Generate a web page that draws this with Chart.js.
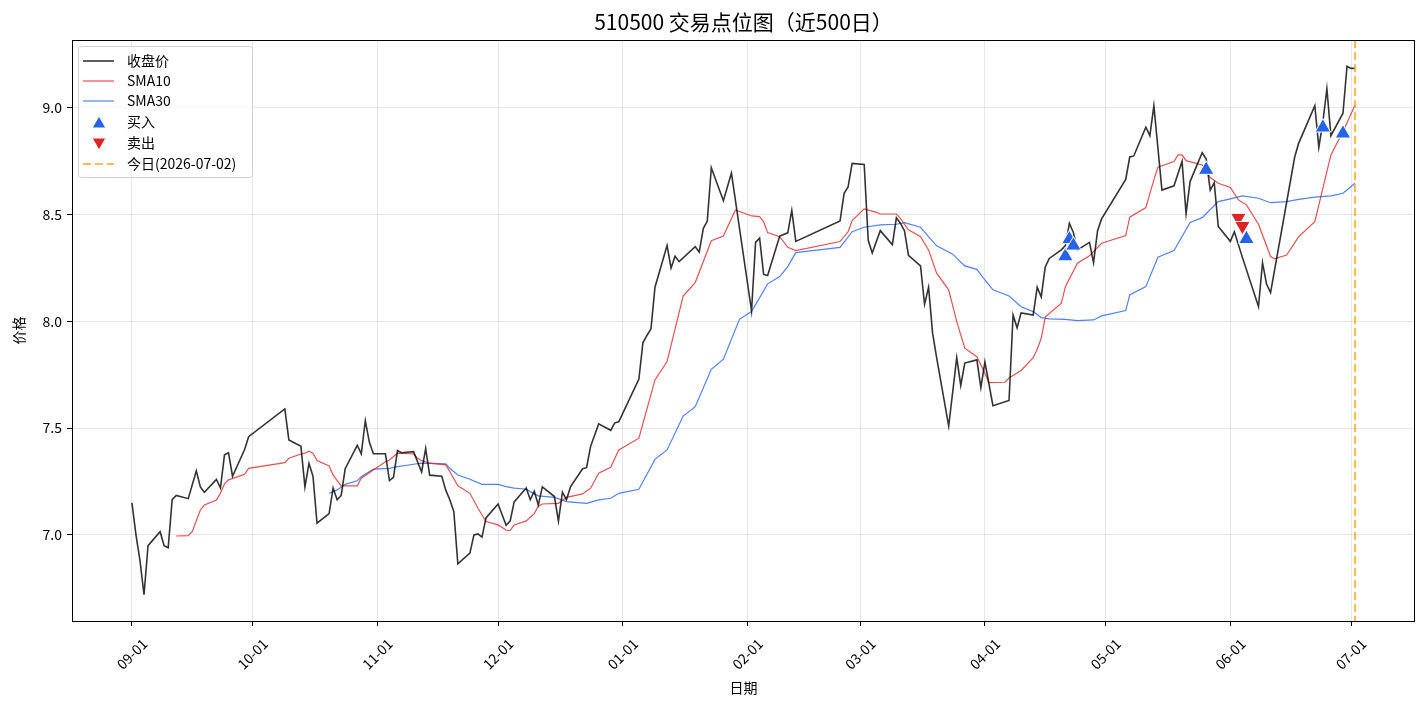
<!DOCTYPE html>
<html>
<head>
<meta charset="utf-8">
<title>510500 交易点位图</title>
<script src="https://cdn.jsdelivr.net/npm/chart.js@4.4.1/dist/chart.umd.min.js"></script>
<style>
  html, body { margin: 0; padding: 0; background: #fff; }
  #chart { display: block; }
</style>
</head>
<body>
<canvas id="chart" width="1428" height="706"></canvas>
<script>
// Precio de cierre
var closeDates = [
  '2025-09-01','2025-09-02','2025-09-03','2025-09-04','2025-09-05','2025-09-08','2025-09-09','2025-09-10','2025-09-11','2025-09-12',
  '2025-09-15','2025-09-17','2025-09-18','2025-09-19','2025-09-22','2025-09-23','2025-09-24','2025-09-25','2025-09-26','2025-09-29',
  '2025-09-30','2025-10-09','2025-10-10','2025-10-13','2025-10-14','2025-10-15','2025-10-16','2025-10-17','2025-10-20','2025-10-21',
  '2025-10-22','2025-10-23','2025-10-24','2025-10-27','2025-10-28','2025-10-29','2025-10-30','2025-10-31','2025-11-03','2025-11-04',
  '2025-11-05','2025-11-06','2025-11-07','2025-11-10','2025-11-12','2025-11-13','2025-11-14','2025-11-17','2025-11-18','2025-11-19',
  '2025-11-20','2025-11-21','2025-11-24','2025-11-25','2025-11-26','2025-11-27','2025-11-28','2025-12-01','2025-12-03','2025-12-04',
  '2025-12-05','2025-12-08','2025-12-09','2025-12-10','2025-12-11','2025-12-12','2025-12-15','2025-12-16','2025-12-17','2025-12-18',
  '2025-12-19','2025-12-22','2025-12-23','2025-12-24','2025-12-26','2025-12-29','2025-12-30','2025-12-31','2026-01-05','2026-01-06',
  '2026-01-07','2026-01-08','2026-01-09','2026-01-12','2026-01-13','2026-01-14','2026-01-15','2026-01-19','2026-01-20','2026-01-21',
  '2026-01-22','2026-01-23','2026-01-26','2026-01-28','2026-02-02','2026-02-03','2026-02-04','2026-02-05','2026-02-06','2026-02-09',
  '2026-02-11','2026-02-12','2026-02-13','2026-02-24','2026-02-25','2026-02-26','2026-02-27','2026-03-02','2026-03-03','2026-03-04',
  '2026-03-06','2026-03-09','2026-03-10','2026-03-11','2026-03-12','2026-03-13','2026-03-16','2026-03-17','2026-03-18','2026-03-19',
  '2026-03-20','2026-03-23','2026-03-25','2026-03-26','2026-03-27','2026-03-30','2026-03-31','2026-04-01','2026-04-03','2026-04-07',
  '2026-04-08','2026-04-09','2026-04-10','2026-04-13','2026-04-14','2026-04-15','2026-04-16','2026-04-17','2026-04-20','2026-04-21',
  '2026-04-22','2026-04-23','2026-04-24','2026-04-27','2026-04-28','2026-04-29','2026-04-30','2026-05-06','2026-05-07','2026-05-08',
  '2026-05-11','2026-05-12','2026-05-13','2026-05-15','2026-05-18','2026-05-20','2026-05-21','2026-05-22','2026-05-25','2026-05-26',
  '2026-05-27','2026-05-28','2026-05-29','2026-06-01','2026-06-02','2026-06-04','2026-06-08','2026-06-09','2026-06-10','2026-06-11',
  '2026-06-17','2026-06-18','2026-06-22','2026-06-23','2026-06-24','2026-06-25','2026-06-26','2026-06-29','2026-06-30','2026-07-01',
  '2026-07-02'
];
var closeValues = [
  7.15, 7.00, 6.88, 6.72, 6.95, 7.015, 6.95, 6.94, 7.165, 7.185,
  7.17, 7.30, 7.225, 7.20, 7.26, 7.22, 7.375, 7.385, 7.275, 7.40,
  7.46, 7.59, 7.445, 7.415, 7.225, 7.335, 7.275, 7.055, 7.10, 7.22,
  7.165, 7.185, 7.31, 7.42, 7.38, 7.535, 7.435, 7.38, 7.38, 7.255,
  7.27, 7.395, 7.385, 7.39, 7.295, 7.405, 7.28, 7.275, 7.21, 7.165,
  7.11, 6.865, 6.915, 7.00, 7.005, 6.99, 7.08, 7.145, 7.045, 7.065,
  7.155, 7.22, 7.165, 7.205, 7.14, 7.225, 7.18, 7.065, 7.20, 7.165,
  7.225, 7.31, 7.315, 7.415, 7.52, 7.49, 7.525, 7.53, 7.73, 7.90,
  7.935, 7.965, 8.16, 8.355, 8.25, 8.305, 8.28, 8.35, 8.325, 8.435,
  8.47, 8.72, 8.565, 8.695, 8.05, 8.37, 8.39, 8.22, 8.215, 8.40,
  8.415, 8.52, 8.375, 8.47, 8.60, 8.63, 8.74, 8.735, 8.38, 8.32,
  8.425, 8.36, 8.485, 8.46, 8.425, 8.31, 8.26, 8.08, 8.16, 7.945,
  7.83, 7.51, 7.83, 7.70, 7.805, 7.82, 7.69, 7.81, 7.605, 7.63,
  8.03, 7.97, 8.04, 8.03, 8.16, 8.115, 8.255, 8.295, 8.335, 8.355,
  8.46, 8.415, 8.335, 8.37, 8.275, 8.425, 8.48, 8.665, 8.77, 8.775,
  8.91, 8.87, 9.01, 8.615, 8.635, 8.75, 8.505, 8.655, 8.79, 8.76,
  8.615, 8.65, 8.445, 8.375, 8.42, 8.30, 8.07, 8.275, 8.175, 8.135,
  8.77, 8.835, 9.01, 8.815, 8.935, 9.09, 8.87, 8.975, 9.195, 9.185,
  9.185
];

// Media móvil de 10 días
var sma10Dates = [
  '2025-09-12','2025-09-15','2025-09-16','2025-09-18','2025-09-19','2025-09-22','2025-09-23','2025-09-24','2025-09-25','2025-09-29',
  '2025-09-30','2025-10-09','2025-10-10','2025-10-13','2025-10-14','2025-10-15','2025-10-16','2025-10-17','2025-10-20','2025-10-21',
  '2025-10-23','2025-10-27','2025-10-28','2025-10-31','2025-11-03','2025-11-04','2025-11-06','2025-11-10','2025-11-11','2025-11-12',
  '2025-11-14','2025-11-18','2025-11-19','2025-11-21','2025-11-24','2025-11-26','2025-11-28','2025-12-01','2025-12-03','2025-12-04',
  '2025-12-05','2025-12-08','2025-12-10','2025-12-11','2025-12-12','2025-12-16','2025-12-18','2025-12-22','2025-12-24','2025-12-26',
  '2025-12-29','2025-12-31','2026-01-05','2026-01-09','2026-01-12','2026-01-16','2026-01-19','2026-01-23','2026-01-26','2026-01-29',
  '2026-02-02','2026-02-04','2026-02-05','2026-02-06','2026-02-09','2026-02-11','2026-02-13','2026-02-24','2026-02-26','2026-02-27',
  '2026-03-02','2026-03-05','2026-03-06','2026-03-10','2026-03-11','2026-03-13','2026-03-16','2026-03-18','2026-03-20','2026-03-23',
  '2026-03-25','2026-03-27','2026-03-30','2026-04-01','2026-04-02','2026-04-06','2026-04-07','2026-04-10','2026-04-13','2026-04-14',
  '2026-04-15','2026-04-16','2026-04-20','2026-04-21','2026-04-24','2026-04-27','2026-04-30','2026-05-06','2026-05-07','2026-05-11',
  '2026-05-13','2026-05-14','2026-05-18','2026-05-19','2026-05-20','2026-05-21','2026-05-25','2026-05-27','2026-05-29','2026-06-01',
  '2026-06-03','2026-06-05','2026-06-08','2026-06-11','2026-06-12','2026-06-15','2026-06-18','2026-06-22','2026-06-26','2026-06-29',
  '2026-06-30','2026-07-02'
];
var sma10Values = [
  6.995, 6.997, 7.016, 7.117, 7.14, 7.164, 7.195, 7.239, 7.258, 7.284,
  7.312, 7.339, 7.359, 7.379, 7.383, 7.392, 7.383, 7.348, 7.323, 7.28,
  7.23, 7.23, 7.266, 7.304, 7.343, 7.351, 7.383, 7.379, 7.359, 7.348,
  7.336, 7.328, 7.297, 7.23, 7.195, 7.125, 7.063, 7.047, 7.023, 7.02,
  7.047, 7.066, 7.10, 7.136, 7.145, 7.148, 7.176, 7.192, 7.219, 7.289,
  7.317, 7.398, 7.453, 7.726, 7.812, 8.119, 8.182, 8.378, 8.40, 8.522,
  8.494, 8.491, 8.467, 8.416, 8.397, 8.347, 8.332, 8.374, 8.42, 8.472,
  8.527, 8.511, 8.503, 8.503, 8.483, 8.429, 8.397, 8.335, 8.226, 8.148,
  7.999, 7.875, 7.835, 7.757, 7.713, 7.715, 7.735, 7.77, 7.83, 7.87,
  7.921, 8.02, 8.085, 8.163, 8.273, 8.308, 8.366, 8.402, 8.488, 8.533,
  8.663, 8.722, 8.749, 8.78, 8.78, 8.753, 8.733, 8.674, 8.647, 8.627,
  8.569, 8.546, 8.455, 8.304, 8.293, 8.311, 8.397, 8.467, 8.78, 8.89,
  8.93, 9.014
];

// Media móvil de 30 días
var sma30Dates = [
  '2025-10-20','2025-10-22','2025-10-24','2025-10-27','2025-10-28','2025-10-31','2025-11-04','2025-11-06','2025-11-10','2025-11-12',
  '2025-11-18','2025-11-19','2025-11-21','2025-11-24','2025-11-27','2025-12-01','2025-12-03','2025-12-05','2025-12-08','2025-12-09',
  '2025-12-11','2025-12-15','2025-12-18','2025-12-23','2025-12-26','2025-12-29','2025-12-31','2026-01-05','2026-01-09','2026-01-12',
  '2026-01-16','2026-01-19','2026-01-23','2026-01-26','2026-01-30','2026-02-02','2026-02-06','2026-02-09','2026-02-11','2026-02-13',
  '2026-02-24','2026-02-27','2026-03-02','2026-03-06','2026-03-10','2026-03-12','2026-03-16','2026-03-18','2026-03-20','2026-03-24',
  '2026-03-27','2026-03-30','2026-04-01','2026-04-03','2026-04-07','2026-04-10','2026-04-13','2026-04-15','2026-04-17','2026-04-21',
  '2026-04-24','2026-04-28','2026-04-30','2026-05-06','2026-05-07','2026-05-11','2026-05-14','2026-05-18','2026-05-22','2026-05-25',
  '2026-05-29','2026-06-01','2026-06-04','2026-06-08','2026-06-11','2026-06-15','2026-06-18','2026-06-22','2026-06-26','2026-06-29',
  '2026-07-02'
];
var sma30Values = [
  7.195, 7.211, 7.237, 7.254, 7.273, 7.308, 7.312, 7.32, 7.331, 7.336,
  7.333, 7.312, 7.281, 7.261, 7.237, 7.237, 7.226, 7.219, 7.214, 7.203,
  7.183, 7.176, 7.156, 7.148, 7.164, 7.172, 7.195, 7.214, 7.354, 7.398,
  7.557, 7.601, 7.776, 7.823, 8.01, 8.046, 8.176, 8.21, 8.257, 8.322,
  8.347, 8.42, 8.441, 8.452, 8.455, 8.463, 8.441, 8.397, 8.354, 8.315,
  8.26, 8.244, 8.194, 8.148, 8.119, 8.069, 8.046, 8.018, 8.012, 8.01,
  8.004, 8.007, 8.026, 8.051, 8.124, 8.163, 8.301, 8.332, 8.463, 8.486,
  8.561, 8.574, 8.588, 8.577, 8.556, 8.561, 8.572, 8.582, 8.588, 8.60,
  8.647
];

// Señales de compra / venta
var buyDates = ['2026-04-21','2026-04-22','2026-04-23','2026-05-26','2026-06-05','2026-06-24','2026-06-29'];
var buyValues = [8.305, 8.385, 8.355, 8.71, 8.386, 8.908, 8.88];
var sellDates = ['2026-06-03','2026-06-04'];
var sellValues = [8.485, 8.447];

var todayDate = '2026-07-02';
var monthTicks = ['2025-09-01','2025-10-01','2025-11-01','2025-12-01','2026-01-01','2026-02-01',
                  '2026-03-01','2026-04-01','2026-05-01','2026-06-01','2026-07-01'];
var yTicks = [7.0, 7.5, 8.0, 8.5, 9.0];

var FONT = '"Noto Sans CJK SC", "DejaVu Sans", sans-serif';
var closeColor = 'rgba(0,0,0,0.8)';
var sma10Color = 'rgba(220,38,38,0.8)';
var sma30Color = 'rgba(37,99,235,0.8)';
var buyColor = '#2563eb';
var sellColor = '#dc2626';
var todayColor = 'rgba(245,165,35,0.75)';

// Convertir fecha a número de días
function dayNum(s) {
    var p = s.split('-');
    return Date.UTC(+p[0], +p[1] - 1, +p[2]) / 86400000;
}
function toPoints(dates, values) {
    return dates.map(function (d, i) { return { x: dayNum(d), y: values[i] }; });
}

var day0 = dayNum(monthTicks[0]);

// Plugin para título, ejes, leyenda y línea de hoy
var decorPlugin = {
    id: 'decor',
    afterDatasetsDraw: function (chart) {
        var ctx = chart.ctx, area = chart.chartArea;
        var x = chart.scales.x.getPixelForValue(dayNum(todayDate));
        ctx.save();
        ctx.strokeStyle = todayColor;
        ctx.lineWidth = 2.2;
        ctx.setLineDash([8, 4]);
        ctx.beginPath();
        ctx.moveTo(x, area.top);
        ctx.lineTo(x, area.bottom);
        ctx.stroke();
        ctx.restore();
    },
    afterDraw: function (chart) {
        var ctx = chart.ctx, area = chart.chartArea, xs = chart.scales.x;
        ctx.save();
        // marco
        ctx.strokeStyle = '#000';
        ctx.lineWidth = 1;
        ctx.strokeRect(area.left + 0.5, area.top + 0.5, area.right - area.left - 1, area.bottom - area.top);

        ctx.fillStyle = '#000';
        // título
        ctx.font = '21px ' + FONT;
        ctx.textAlign = 'center';
        ctx.textBaseline = 'middle';
        ctx.fillText('510500 交易点位图（近500日）', (area.left + area.right) / 2, 22);

        // etiquetas del eje x giradas
        ctx.font = '14px ' + FONT;
        monthTicks.forEach(function (d) {
            var px = xs.getPixelForValue(dayNum(d));
            ctx.save();
            ctx.translate(px, 654);
            ctx.rotate(-Math.PI / 4);
            ctx.fillText(d.slice(5), 0, 0);
            ctx.restore();
        });
        ctx.fillText('日期', (area.left + area.right) / 2, 688);
        ctx.save();
        ctx.translate(19, (area.top + area.bottom) / 2);
        ctx.rotate(-Math.PI / 2);
        ctx.fillText('价格', 0, 0);
        ctx.restore();

        // leyenda
        var lx = 78, ly = 46, lw = 174, lh = 131;
        ctx.beginPath();
        ctx.roundRect(lx + 0.5, ly + 0.5, lw, lh, 3);
        ctx.fillStyle = 'rgba(255,255,255,0.8)';
        ctx.fill();
        ctx.strokeStyle = '#d0d0d0';
        ctx.stroke();

        var items = [
            { label: '收盘价', type: 'line', color: closeColor, width: 1.6 },
            { label: 'SMA10', type: 'line', color: sma10Color, width: 1.2 },
            { label: 'SMA30', type: 'line', color: sma30Color, width: 1.2 },
            { label: '买入', type: 'mark', color: buyColor, rot: 0 },
            { label: '卖出', type: 'mark', color: sellColor, rot: 180 },
            { label: '今日(' + todayDate + ')', type: 'dash', color: todayColor, width: 2 }
        ];
        var rows = [61, 81, 101, 122, 143, 164];
        ctx.textAlign = 'left';
        items.forEach(function (it, i) {
            var y = rows[i];
            ctx.save();
            if (it.type === 'mark') {
                ctx.fillStyle = it.color;
                ctx.strokeStyle = '#fff';
                Chart.helpers.drawPoint(ctx, { pointStyle: 'triangle', radius: 8, rotation: it.rot, borderWidth: 1 }, 99, y + (it.rot ? -1 : 2));
            } else {
                ctx.strokeStyle = it.color;
                ctx.lineWidth = it.width;
                if (it.type === 'dash') ctx.setLineDash([8, 4]);
                ctx.beginPath();
                ctx.moveTo(83, y);
                ctx.lineTo(114, y);
                ctx.stroke();
            }
            ctx.restore();
            ctx.fillStyle = '#000';
            ctx.fillText(it.label, 127, y);
        });
        ctx.restore();
    }
};

Chart.defaults.font.family = FONT;
Chart.defaults.font.size = 14;
Chart.defaults.color = '#000';

var ctx = document.getElementById('chart').getContext('2d');
window.tradeChart = new Chart(ctx, {
    type: 'line',
    data: {
        datasets: [
            {
                label: '买入',
                data: toPoints(buyDates, buyValues),
                showLine: false,
                pointStyle: 'triangle',
                pointRadius: 9,
                pointBackgroundColor: buyColor,
                pointBorderColor: '#fff',
                pointBorderWidth: 1,
                order: 0
            },
            {
                label: '卖出',
                data: toPoints(sellDates, sellValues),
                showLine: false,
                pointStyle: 'triangle',
                pointRotation: 180,
                pointRadius: 9,
                pointBackgroundColor: sellColor,
                pointBorderColor: '#fff',
                pointBorderWidth: 1,
                order: 0
            },
            {
                label: '收盘价',
                data: toPoints(closeDates, closeValues),
                borderColor: closeColor,
                borderWidth: 1.6,
                pointRadius: 0,
                tension: 0,
                order: 1
            },
            {
                label: 'SMA10',
                data: toPoints(sma10Dates, sma10Values),
                borderColor: sma10Color,
                borderWidth: 1.2,
                pointRadius: 0,
                tension: 0,
                order: 2
            },
            {
                label: 'SMA30',
                data: toPoints(sma30Dates, sma30Values),
                borderColor: sma30Color,
                borderWidth: 1.2,
                pointRadius: 0,
                tension: 0,
                order: 3
            }
        ]
    },
    options: {
        responsive: false,
        animation: false,
        devicePixelRatio: 1,
        layout: { padding: { left: 0, top: 40, right: 13, bottom: 0 } },
        plugins: {
            legend: { display: false },
            tooltip: { enabled: false },
            title: { display: false }
        },
        scales: {
            x: {
                type: 'linear',
                min: day0 - 14.9,
                max: day0 + 318.9,
                afterBuildTicks: function (axis) {
                    axis.ticks = monthTicks.map(function (d) { return { value: dayNum(d) }; });
                },
                afterFit: function (axis) { axis.height = 85; },
                ticks: { display: false },
                grid: { color: 'rgba(176,176,176,0.3)', tickColor: '#000', tickLength: 5, drawTicks: true },
                border: { display: false }
            },
            y: {
                min: 6.597,
                max: 9.318,
                afterBuildTicks: function (axis) {
                    axis.ticks = yTicks.map(function (v) { return { value: v }; });
                },
                afterFit: function (axis) { axis.width = 72; },
                ticks: {
                    padding: 5,
                    callback: function (v) { return Number(v).toFixed(1); }
                },
                grid: { color: 'rgba(176,176,176,0.3)', tickColor: '#000', tickLength: 5, drawTicks: true },
                border: { display: false }
            }
        }
    },
    plugins: [decorPlugin]
});
</script>
</body>
</html>
